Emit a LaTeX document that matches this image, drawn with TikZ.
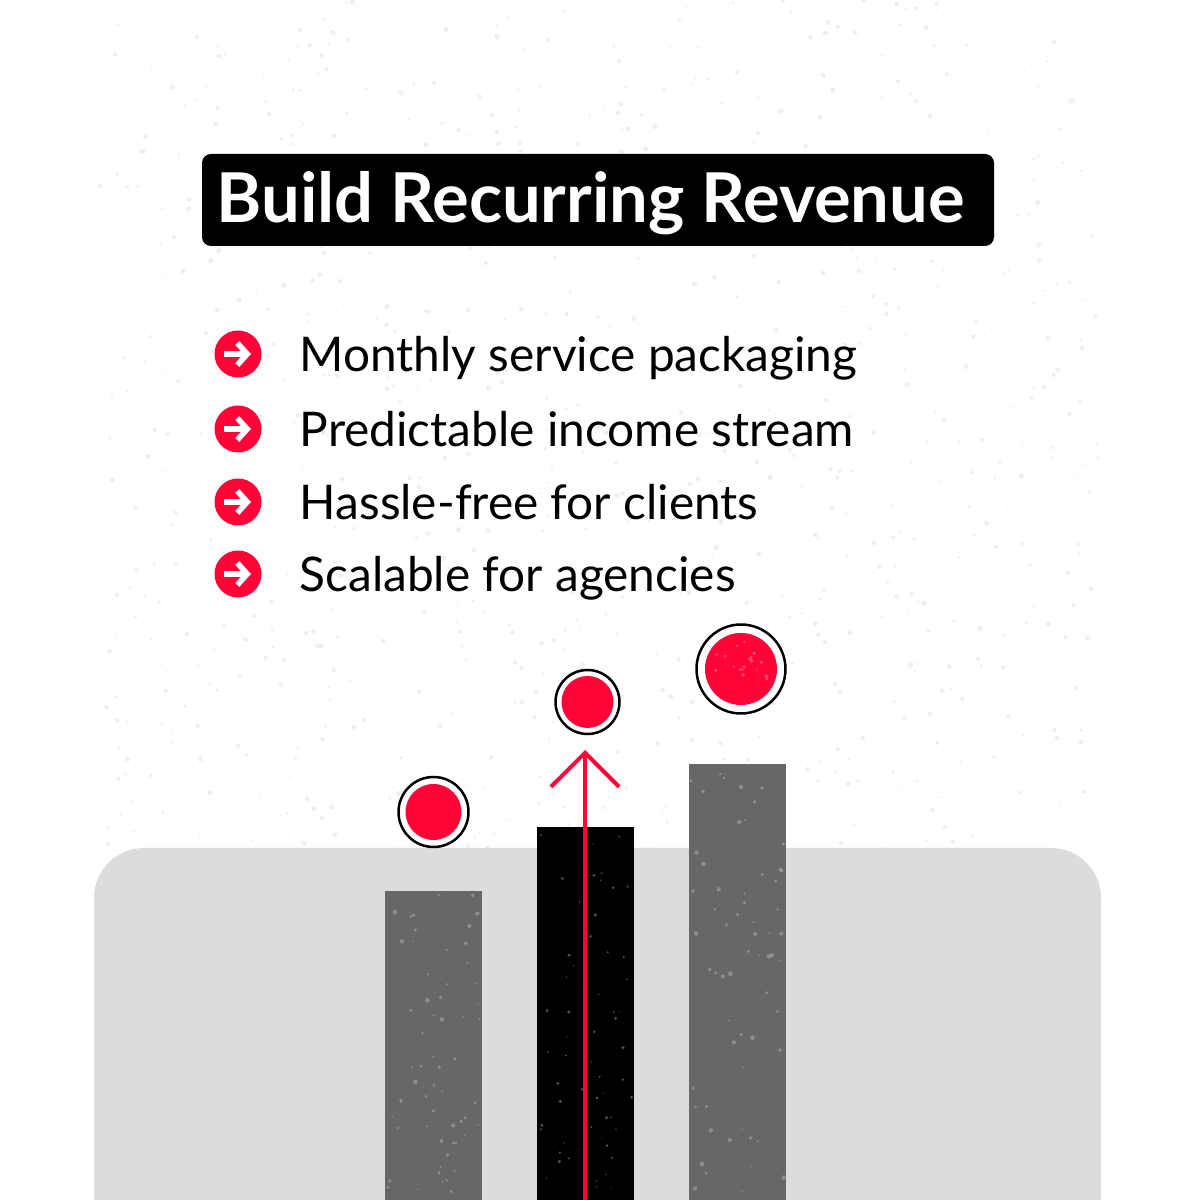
\documentclass[tikz,border=0pt]{standalone}
\usepackage{fontspec}
\usepackage{xcolor}
\setmainfont{Lato}
\usetikzlibrary{arrows.meta, calc, positioning}

\definecolor{brandred}{HTML}{FF0537}
\definecolor{bargray}{HTML}{676767}
\definecolor{panelgray}{HTML}{DCDCDC}
\definecolor{specklegray}{HTML}{EFEFEF}

\tikzset{
    titlebox/.style={fill=black, rounded corners=0.09cm, minimum width=7.92cm, minimum height=0.92cm, inner sep=0},
    titletext/.style={text=white, font=\bfseries\fontsize{19.55}{22}\selectfont, anchor=base west, inner sep=0},
    itemtext/.style={text=black, font=\fontsize{13.6}{15}\selectfont, anchor=base west, inner sep=0},
    bullet/.style={circle, fill=brandred, minimum size=0.47cm, inner sep=0},
    bulletarrow/.style={draw=white, line width=0.055cm, -{Straight Barb[length=0.1cm, width=0.22cm]}},
    dot/.style={circle, fill=brandred, inner sep=0},
    ring/.style={circle, draw=black, line width=0.025cm, fill=white, inner sep=0}
}

\begin{document}
\begin{tikzpicture}
    \useasboundingbox (0, 0) rectangle (12, 12);
    \fill[white] (0, 0) rectangle (12, 12);
    \pgfmathsetseed{4711}

    % paper speckle
    \foreach \i in {1,...,800}
        \fill[specklegray] (1 + 10*rnd, 3.5 + 8.5*rnd) circle[radius=0.01 + 0.016*rnd];

    % panel
    \fill[panelgray, rounded corners=0.5cm] (0.94, -1) rectangle (11.01, 3.52);

    % title
    \node[titlebox] (title) at (5.98, 10) {};
    \node[titletext] (titlelabel) at (2.16, 9.77) {Build Recurring Revenue};

    % list
    \foreach \i/\ypos/\txt in {1/8.46/Monthly service packaging, 2/7.71/Predictable income stream, 3/6.98/Hassle-free for clients, 4/6.26/Scalable for agencies} {
        \node[bullet] (b\i) at (2.38, \ypos) {};
        \draw[bulletarrow] ([xshift=-0.14cm]b\i.center) -- ([xshift=0.13cm]b\i.center);
        \node[itemtext] (item\i) at (2.99, \ypos - 0.18) {\txt};
    }

    % bars
    \begin{scope}
        \clip (0, 0) rectangle (12, 12);
        \fill[bargray] (3.85, 0) rectangle (4.82, 3.09);
        \fill[black] (5.37, 0) rectangle (6.34, 3.73);
        \fill[bargray] (6.89, 0) rectangle (7.86, 4.36);
        \foreach \i in {1,...,60} {
            \fill[white, opacity=0.25] (3.87 + 0.93*rnd, 0.02 + 3.03*rnd) circle[radius=0.008 + 0.016*rnd];
            \fill[white, opacity=0.3] (5.39 + 0.93*rnd, 0.02 + 3.67*rnd) circle[radius=0.006 + 0.012*rnd];
            \fill[white, opacity=0.25] (6.91 + 0.93*rnd, 0.02 + 4.3*rnd) circle[radius=0.008 + 0.016*rnd];
        }
    \end{scope}
    \coordinate (barbase) at (5.85, 0);

    % rings
    \node[ring, minimum size=0.7cm] (ringa) at (4.335, 3.88) {};
    \node[dot, minimum size=0.56cm] (dota) at (ringa) {};
    \node[ring, minimum size=0.64cm] (ringb) at (5.875, 4.98) {};
    \node[dot, minimum size=0.52cm] (dotb) at (ringb) {};
    \node[ring, minimum size=0.89cm] (ringc) at (7.41, 5.31) {};
    \node[dot, minimum size=0.72cm] (dotc) at (ringc) {};
    \foreach \i in {1,...,18}
        \fill[white, opacity=0.3] ($(dotc) + (360*rnd:0.34*rnd)$) circle[radius=0.008 + 0.012*rnd];

    % arrow
    \coordinate (tip) at (5.85, 4.5);
    \draw[draw=brandred, line width=0.04cm, line join=miter, -{Straight Barb[length=0.34cm, width=0.68cm, angle'=90]}] (barbase) -- (tip);
\end{tikzpicture}
\end{document}
